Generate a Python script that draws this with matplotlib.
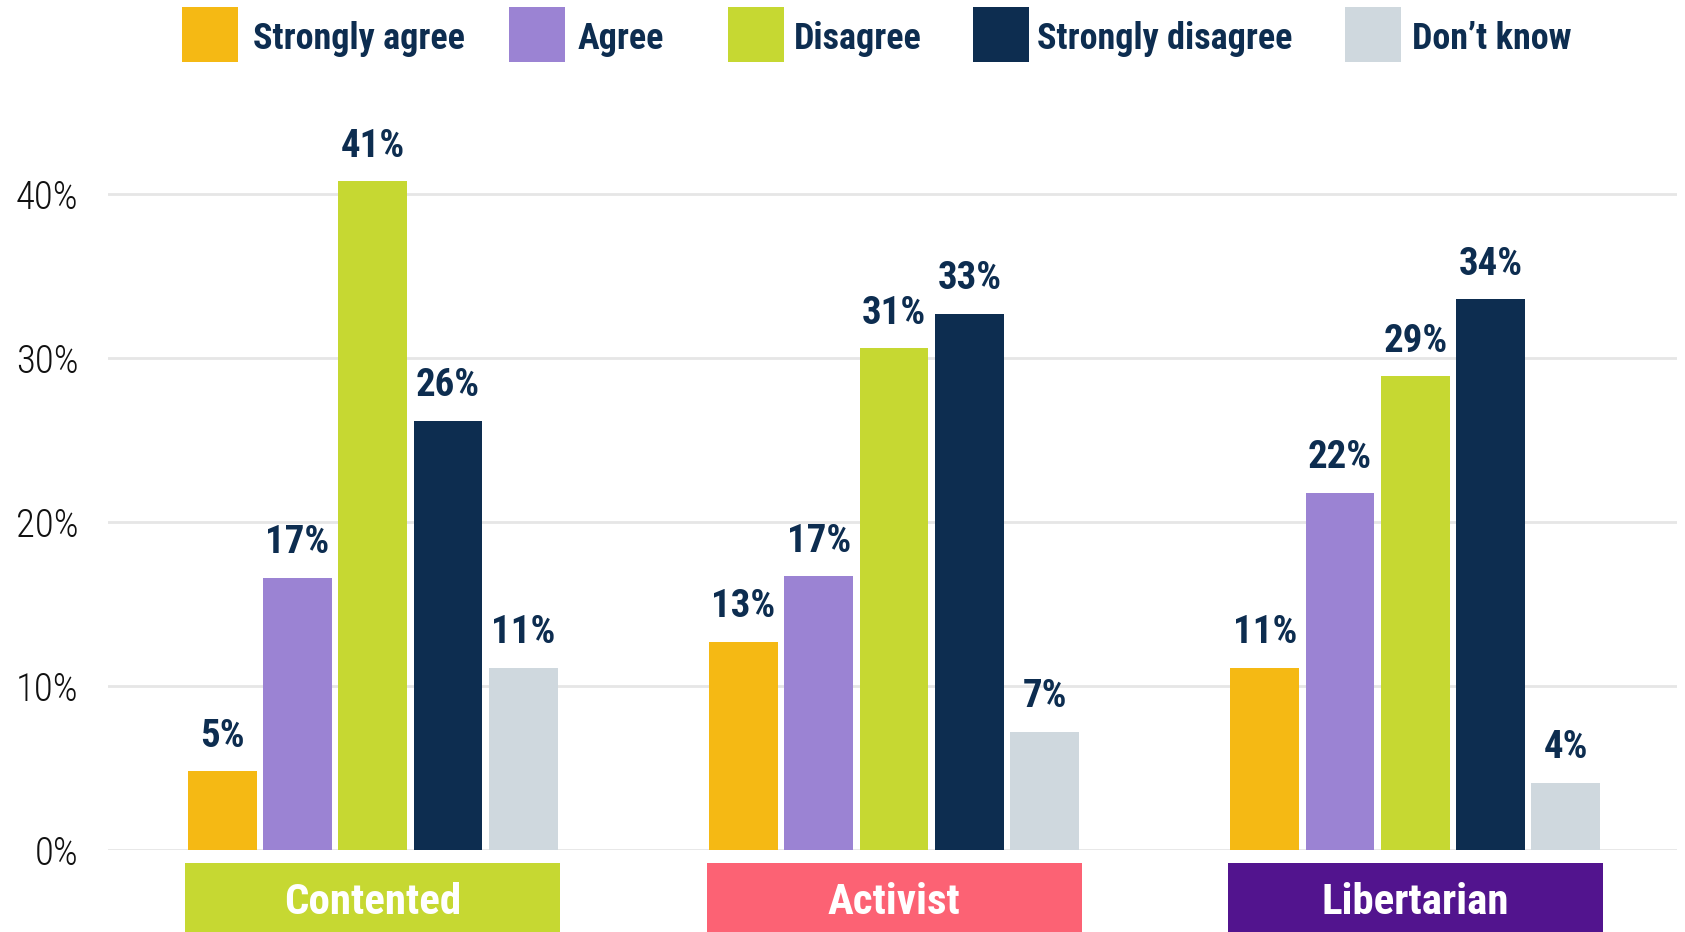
import matplotlib
matplotlib.use("Agg")
import matplotlib.pyplot as plt
from matplotlib import font_manager
from matplotlib.patches import Rectangle
from matplotlib.transforms import blended_transform_factory
import numpy as np

# ---- data -------------------------------------------------------------
groups = ["Contented", "Activist", "Libertarian"]
responses = ["Strongly agree", "Agree", "Disagree", "Strongly disagree", "Don\u2019t know"]

strongly_agree = [4.8, 12.7, 11.1]
agree = [16.6, 16.7, 21.8]
disagree = [40.8, 30.6, 28.9]
strongly_disagree = [26.2, 32.7, 33.6]
dont_know = [11.1, 7.2, 4.1]

y_ticks = [0, 10, 20, 30, 40]
y_tick_labels = ["0%", "10%", "20%", "30%", "40%"]

# ---- styling ----------------------------------------------------------
response_colors = ["#F5B914", "#9B83D3", "#C6D832", "#0D2D50", "#CFD8DE"]
group_colors = ["#C6D832", "#FC6274", "#52148E"]
navy = "#0D2D50"
grid_color = "#E6E6E6"

available = {f.name for f in font_manager.fontManager.ttflist}
narrow = next((f for f in ["Roboto Condensed", "Liberation Sans Narrow",
                           "Open Sans Condensed", "DejaVu Sans Condensed"]
               if f in available), "DejaVu Sans")
plt.rcParams["font.family"] = [narrow, "DejaVu Sans"]

W, H = 1685, 932
fig = plt.figure(figsize=(W / 100, H / 100), dpi=100)
fig.patch.set_facecolor("white")

ax_left, ax_right = 107.5, 1677
ax_bottom, ax_top = 850, 112.5
ax = fig.add_axes([ax_left / W, (H - ax_bottom) / H,
                   (ax_right - ax_left) / W, (ax_bottom - ax_top) / H])

series = [strongly_agree, agree, disagree, strongly_disagree, dont_know]
x = np.arange(len(groups))
step = 0.1444
width = 0.132

for i, (vals, color) in enumerate(zip(series, response_colors)):
    pos = x + (i - 2) * step
    bars = ax.bar(pos, vals, width=width, color=color, zorder=3, linewidth=0)
    for b, v in zip(bars, vals):
        ax.annotate(f"{round(v):d}%", (b.get_x() + b.get_width() / 2, v),
                    xytext=(0, 12), textcoords="offset points",
                    ha="center", va="bottom", fontsize=28,
                    fontweight="bold", color=navy, zorder=4)

ax.set_xlim(-0.509, 2.502)
ax.set_ylim(0, 45)
ax.set_yticks(y_ticks)
ax.set_yticklabels(y_tick_labels, fontweight="light")
ax.tick_params(axis="y", length=0, pad=21, labelsize=28, labelcolor="#111111")
ax.tick_params(axis="x", length=0, labelbottom=False)
ax.grid(axis="y", color=grid_color, linewidth=2, zorder=0)
for s in ax.spines.values():
    s.set_visible(False)

# group name boxes beneath the axis
trans = blended_transform_factory(ax.transData, fig.transFigure)
box_w = 0.7195
box_top = (H - 863) / H
for xi, name, col in zip(x, groups, group_colors):
    ax.add_patch(Rectangle((xi - box_w / 2, 0), box_w, box_top, transform=trans,
                           facecolor=col, edgecolor="none", clip_on=False))
    ax.text(xi, (H - 903) / H, name, transform=trans, ha="center", va="center",
            fontsize=31, fontweight="bold", color="white")

# legend across the top
sq_x = [181.6, 509.4, 727.5, 972.5, 1345.4]
txt_x = [252.5, 578, 794, 1037, 1412]
sq_size = 56
for sx, tx, label, col in zip(sq_x, txt_x, responses, response_colors):
    fig.patches.append(Rectangle((sx / W, (H - 62) / H), sq_size / W, 55 / H,
                                 transform=fig.transFigure, facecolor=col,
                                 edgecolor="none"))
    fig.text(tx / W, (H - 39) / H, label, ha="left", va="center",
             fontsize=26, fontweight="bold", color=navy)

fig.savefig("out.png", dpi=100, facecolor="white")
